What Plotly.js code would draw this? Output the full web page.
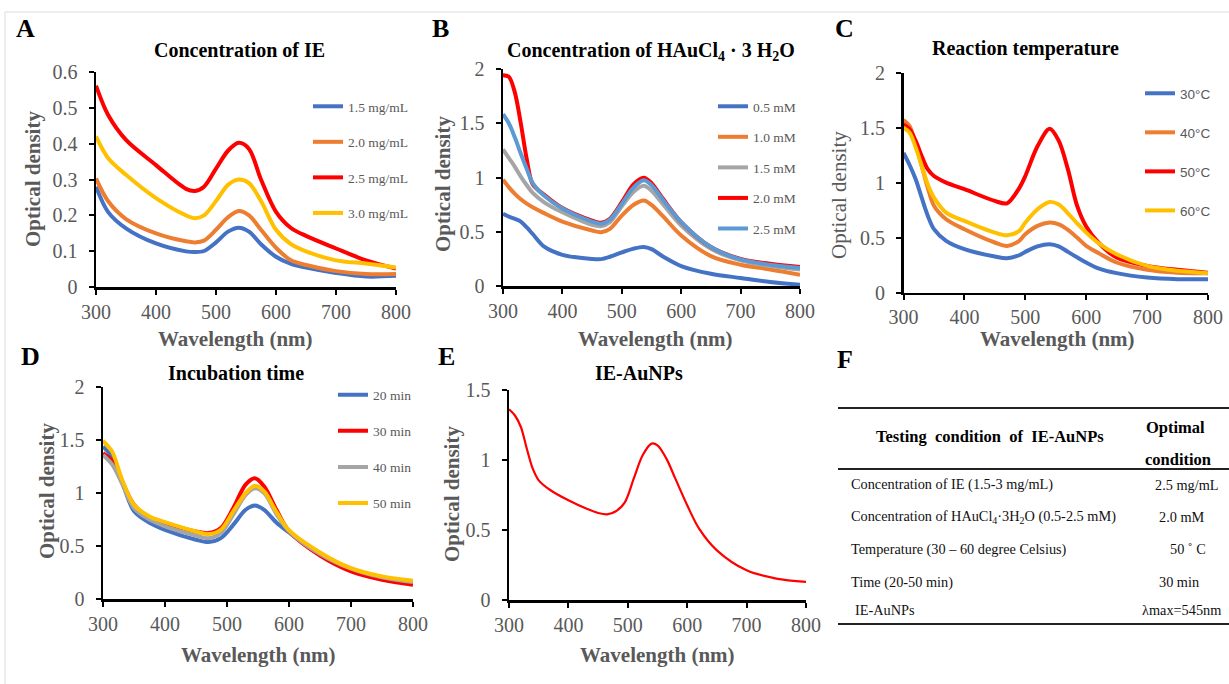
<!DOCTYPE html>
<html>
<head>
<meta charset="utf-8">
<script src="https://cdn.plot.ly/plotly-3.0.1.min.js"></script>
<style>
html,body{margin:0;padding:0;background:#fff;}
#chart{width:1229px;height:684px;}
</style>
</head>
<body>
<div id="chart"></div>
<script>
// ---------- Panel A: Concentration of IE ----------
const A_x = [300, 320, 350, 400, 450, 465, 480, 500, 520, 538, 555, 575, 600, 625, 650, 700, 750, 800];
const A_15 = [0.28, 0.21, 0.164, 0.122, 0.1, 0.098, 0.101, 0.125, 0.155, 0.166, 0.155, 0.12, 0.085, 0.065, 0.055, 0.04, 0.03, 0.032];
const A_20 = [0.303, 0.24, 0.19, 0.15, 0.128, 0.125, 0.13, 0.16, 0.195, 0.212, 0.2, 0.16, 0.11, 0.075, 0.062, 0.045, 0.037, 0.037];
const A_25 = [0.561, 0.48, 0.41, 0.34, 0.274, 0.268, 0.28, 0.33, 0.38, 0.402, 0.385, 0.3, 0.21, 0.165, 0.143, 0.108, 0.075, 0.052];
const A_30 = [0.42, 0.36, 0.313, 0.248, 0.2, 0.192, 0.2, 0.24, 0.285, 0.3, 0.29, 0.24, 0.16, 0.12, 0.1, 0.075, 0.066, 0.055];
const A_names = ["1.5 mg/mL", "2.0 mg/mL", "2.5 mg/mL", "3.0 mg/mL"];

// ---------- Panel B: Concentration of HAuCl4 ----------
const B_x = [300, 310, 320, 330, 340, 350, 370, 400, 450, 465, 480, 500, 520, 537, 550, 570, 600, 650, 700, 750, 800];
const B_05 = [0.666, 0.64, 0.62, 0.595, 0.54, 0.48, 0.36, 0.288, 0.25, 0.248, 0.27, 0.31, 0.345, 0.36, 0.34, 0.27, 0.184, 0.113, 0.074, 0.037, 0.012];
const B_10 = [0.98, 0.91, 0.85, 0.8, 0.76, 0.727, 0.67, 0.595, 0.512, 0.497, 0.528, 0.65, 0.75, 0.79, 0.748, 0.64, 0.466, 0.276, 0.196, 0.153, 0.104];
const B_15 = [1.26, 1.18, 1.1, 1.01, 0.93, 0.86, 0.77, 0.68, 0.564, 0.552, 0.589, 0.736, 0.87, 0.925, 0.88, 0.75, 0.558, 0.343, 0.236, 0.184, 0.153];
const B_20 = [1.945, 1.93, 1.785, 1.5, 1.17, 0.94, 0.84, 0.72, 0.604, 0.583, 0.62, 0.773, 0.94, 1.0, 0.95, 0.8, 0.59, 0.36, 0.25, 0.205, 0.175];
const B_25 = [1.585, 1.5, 1.37, 1.22, 1.08, 0.95, 0.83, 0.715, 0.595, 0.574, 0.613, 0.758, 0.91, 0.975, 0.93, 0.79, 0.59, 0.36, 0.245, 0.196, 0.165];
const B_names = ["0.5 mM", "1.0 mM", "1.5 mM", "2.0 mM", "2.5 mM"];

// ---------- Panel C: Reaction temperature ----------
const C_x = [300, 310, 320, 330, 340, 350, 370, 400, 450, 470, 490, 500, 520, 540, 555, 570, 585, 600, 620, 650, 700, 750, 800];
const C_30 = [1.27, 1.16, 1.03, 0.86, 0.697, 0.576, 0.47, 0.394, 0.327, 0.312, 0.339, 0.37, 0.42, 0.44, 0.42, 0.37, 0.32, 0.273, 0.22, 0.176, 0.136, 0.121, 0.121];
const C_40 = [1.57, 1.515, 1.35, 1.15, 0.95, 0.79, 0.667, 0.576, 0.455, 0.424, 0.47, 0.53, 0.606, 0.636, 0.62, 0.57, 0.5, 0.424, 0.36, 0.273, 0.206, 0.18, 0.176];
const C_50 = [1.53, 1.485, 1.38, 1.24, 1.12, 1.06, 1.0, 0.94, 0.833, 0.812, 0.95, 1.06, 1.33, 1.49, 1.38, 1.12, 0.79, 0.6, 0.455, 0.318, 0.242, 0.206, 0.18];
const C_60 = [1.5, 1.455, 1.32, 1.15, 0.98, 0.864, 0.727, 0.652, 0.545, 0.52, 0.56, 0.636, 0.758, 0.824, 0.8, 0.72, 0.63, 0.545, 0.45, 0.348, 0.242, 0.197, 0.176];
const C_names = ["30°C", "40°C", "50°C", "60°C"];

// ---------- Panel D: Incubation time ----------
const D_x = [300, 315, 330, 350, 375, 400, 450, 470, 490, 510, 530, 545, 560, 580, 600, 650, 700, 750, 800];
const D_20 = [1.44, 1.34, 1.12, 0.83, 0.72, 0.654, 0.56, 0.538, 0.575, 0.7, 0.843, 0.884, 0.843, 0.72, 0.63, 0.418, 0.277, 0.204, 0.16];
const D_30 = [1.377, 1.3, 1.12, 0.89, 0.77, 0.717, 0.638, 0.623, 0.67, 0.858, 1.08, 1.14, 1.063, 0.84, 0.64, 0.41, 0.261, 0.182, 0.135];
const D_40 = [1.36, 1.27, 1.1, 0.858, 0.75, 0.686, 0.6, 0.575, 0.623, 0.796, 0.984, 1.047, 1.0, 0.8, 0.64, 0.425, 0.286, 0.204, 0.16];
const D_50 = [1.494, 1.39, 1.14, 0.89, 0.78, 0.726, 0.638, 0.613, 0.654, 0.827, 1.0, 1.07, 1.016, 0.82, 0.65, 0.44, 0.292, 0.214, 0.173];
const D_names = ["20 min", "30 min", "40 min", "50 min"];

// ---------- Panel E: IE-AuNPs ----------
const E_x = [300, 310, 320, 330, 340, 350, 370, 400, 430, 450, 465, 480, 495, 510, 525, 540, 550, 565, 580, 600, 620, 650, 700, 750, 800];
const E_y = [1.364, 1.32, 1.238, 1.083, 0.94, 0.857, 0.786, 0.714, 0.655, 0.624, 0.614, 0.636, 0.7, 0.869, 1.036, 1.119, 1.107, 1.012, 0.869, 0.679, 0.512, 0.357, 0.214, 0.155, 0.131];

// ---------- Panel F: table ----------
const F_head = ["Testing&#160;&#160;condition&#160;&#160;of&#160;&#160;IE-AuNPs", "Optimal", "condition"];
const F_cond = ["Concentration of IE (1.5-3 mg/mL)",
  "Concentration of HAuCl<sub>4</sub>·3H<sub>2</sub>O (0.5-2.5 mM)",
  "Temperature (30 – 60 degree Celsius)",
  "Time (20-50 min)",
  "IE-AuNPs"];
const F_opt = ["2.5 mg/mL", "2.0 mM", "50 ˚ C", "30 min", "λmax=545nm"];

// ---------- styling ----------
const W = 1229, H = 684;
const PX = x => x / W;
const PY = y => 1 - y / H;
const BLUE = "#4472C4", ORANGE = "#ED7D31", RED = "#FF0000", YELLOW = "#FFC000", GRAY = "#A5A5A5", LBLUE = "#5B9BD5";
const SERIF = "Liberation Serif, Times New Roman, serif";
const TICKC = "#595959";

const traces = [];
function addSeries(xa, ya, x, y, name, color, width, legend) {
  traces.push({
    type: "scatter", mode: "lines", x: x, y: y, name: name,
    xaxis: xa, yaxis: ya,
    line: {color: color, width: width, shape: "spline", smoothing: 0.9},
    showlegend: !!legend, legend: legend || "legend", legendgroup: (legend || "none") + name,
    hoverinfo: "skip"
  });
}
[[A_15, BLUE], [A_20, ORANGE], [A_25, RED], [A_30, YELLOW]].forEach((s, i) => addSeries("x", "y", A_x, s[0], A_names[i], s[1], 4, "legend"));
[[B_05, BLUE], [B_10, ORANGE], [B_15, GRAY], [B_20, RED], [B_25, LBLUE]].forEach((s, i) => addSeries("x2", "y2", B_x, s[0], B_names[i], s[1], 4, "legend2"));
[[C_30, BLUE], [C_40, ORANGE], [C_50, RED], [C_60, YELLOW]].forEach((s, i) => addSeries("x3", "y3", C_x, s[0], C_names[i], s[1], 4, "legend3"));
[[D_20, BLUE], [D_30, RED], [D_40, GRAY], [D_50, YELLOW]].forEach((s, i) => addSeries("x4", "y4", D_x, s[0], D_names[i], s[1], 4, "legend4"));
addSeries("x5", "y5", E_x, E_y, "IE-AuNPs", RED, 2.2, null);

function xax(l, r, anchor) {
  return {domain: [PX(l), PX(r)], anchor: anchor, range: [300, 800], tickvals: [300, 400, 500, 600, 700, 800],
    showgrid: false, zeroline: false, showline: true, linecolor: "#000", linewidth: 2.5,
    ticks: "outside", ticklen: 5, tickwidth: 2, tickcolor: "#000",
    tickfont: {family: SERIF, size: 20, color: TICKC}, ticklabelstandoff: 0, fixedrange: true};
}
function yax(top, bot, anchor, max, dt) {
  return {domain: [PY(bot), PY(top)], anchor: anchor, range: [0, max], dtick: dt, tick0: 0,
    showgrid: false, zeroline: false, showline: true, linecolor: "#000", linewidth: 2.5,
    ticks: "outside", ticklen: 5, tickwidth: 2, tickcolor: "#000",
    tickfont: {family: SERIF, size: 20, color: TICKC}, ticklabelstandoff: 7, fixedrange: true};
}

const annotations = [];
function ann(x, y, text, size, opts) {
  annotations.push(Object.assign({xref: "paper", yref: "paper", x: PX(x), y: PY(y), text: text,
    showarrow: false, xanchor: "center", yanchor: "middle",
    font: {family: SERIF, size: size, color: "#000"}}, opts || {}));
}
// panel letters
[["A", 25, 28], ["B", 440, 29], ["C", 844, 28], ["D", 30, 357], ["E", 446, 357], ["F", 845, 359]].forEach(p => ann(p[1], p[2], "<b>" + p[0] + "</b>", 26));
// titles
ann(239, 50, "<b>Concentration of IE</b>", 20);
ann(651, 52, "<b>Concentration of HAuCl<sub>4</sub> · 3 H<sub>2</sub>O</b>", 20);
ann(1025, 48, "<b>Reaction temperature</b>", 20);
ann(236, 373, "<b>Incubation time</b>", 20);
ann(639, 373, "<b>IE-AuNPs</b>", 20);
// axis titles
const tf = {family: SERIF, size: 21, color: TICKC};
ann(33, 179, "<b>Optical density</b>", 21, {textangle: -90, font: tf});
ann(443, 184, "<b>Optical density</b>", 21, {textangle: -90, font: tf});
ann(839, 195, "Optical density", 21, {textangle: -90, font: tf});
ann(47, 491, "<b>Optical density</b>", 21, {textangle: -90, font: tf});
ann(452, 494, "<b>Optical density</b>", 21, {textangle: -90, font: tf});
ann(236, 339, "<b>Wavelength (nm)</b>", 21, {font: tf});
ann(655, 339, "<b>Wavelength (nm)</b>", 21, {font: tf});
ann(1057, 339, "<b>Wavelength (nm)</b>", 21, {font: tf});
ann(258, 655, "<b>Wavelength (nm)</b>", 21, {font: tf});
ann(657, 655, "<b>Wavelength (nm)</b>", 21, {font: tf});
// table
const tfont = {family: SERIF, size: 14.3, color: "#111"};
ann(990, 436, "<b>" + F_head[0] + "</b>", 16.5);
ann(1175, 427, "<b>" + F_head[1] + "</b>", 16.5);
ann(1178, 459, "<b>" + F_head[2] + "</b>", 16.5);
const rowY = [485, 517, 549, 582, 610];
const rowX = [849, 849, 849, 849, 853];
const optX = [1187, 1182, 1188, 1179, 1181];
F_cond.forEach((t, i) => ann(rowX[i], rowY[i], t, 14.3, {xanchor: "left", font: tfont}));
F_opt.forEach((t, i) => ann(optX[i], rowY[i], t, 14.3, {font: tfont}));

const shapes = [
  {type: "rect", xref: "paper", yref: "paper", x0: PX(5), x1: PX(1232), y0: PY(690), y1: PY(12), line: {color: "#dcdcdc", width: 1}},
  {type: "line", xref: "paper", yref: "paper", x0: PX(838), x1: PX(1229), y0: PY(408), y1: PY(408), line: {color: "#222", width: 2}},
  {type: "line", xref: "paper", yref: "paper", x0: PX(838), x1: PX(1229), y0: PY(469), y1: PY(469), line: {color: "#222", width: 2}},
  {type: "line", xref: "paper", yref: "paper", x0: PX(838), x1: PX(1229), y0: PY(624), y1: PY(624), line: {color: "#222", width: 2}}
];

function leg(x, y, gap, fam, col) {
  return {x: PX(x), y: PY(y), xanchor: "left", yanchor: "top", bgcolor: "rgba(0,0,0,0)", borderwidth: 0,
    tracegroupgap: gap, font: {family: fam, size: 13.5, color: col}, itemclick: false, itemdoubleclick: false};
}

const layout = {
  width: W, height: H, margin: {l: 0, r: 0, t: 0, b: 0},
  paper_bgcolor: "#fff", plot_bgcolor: "rgba(0,0,0,0)",
  showlegend: true,
  xaxis: xax(96, 396, "y"), yaxis: yax(71.7, 287.3, "x", 0.6, 0.1),
  xaxis2: xax(503, 800, "y2"), yaxis2: yax(69.3, 286, "x2", 2, 0.5),
  xaxis3: xax(903.5, 1208, "y3"), yaxis3: yax(72.7, 292.5, "x3", 2, 0.5),
  xaxis4: xax(103, 413, "y4"), yaxis4: yax(387.3, 599, "x4", 2, 0.5),
  xaxis5: xax(509, 806, "y5"), yaxis5: yax(390.3, 600.3, "x5", 1.5, 0.5),
  legend: leg(308, 91, 15, SERIF, TICKC),
  legend2: leg(713, 91, 10, SERIF, TICKC),
  legend3: leg(1140, 78, 18.5, "Liberation Sans, Arial, sans-serif", TICKC),
  legend4: leg(333, 379.5, 15.5, SERIF, TICKC),
  annotations: annotations, shapes: shapes
};
Plotly.newPlot("chart", traces, layout, {staticPlot: true, displayModeBar: false});
</script>
</body>
</html>
